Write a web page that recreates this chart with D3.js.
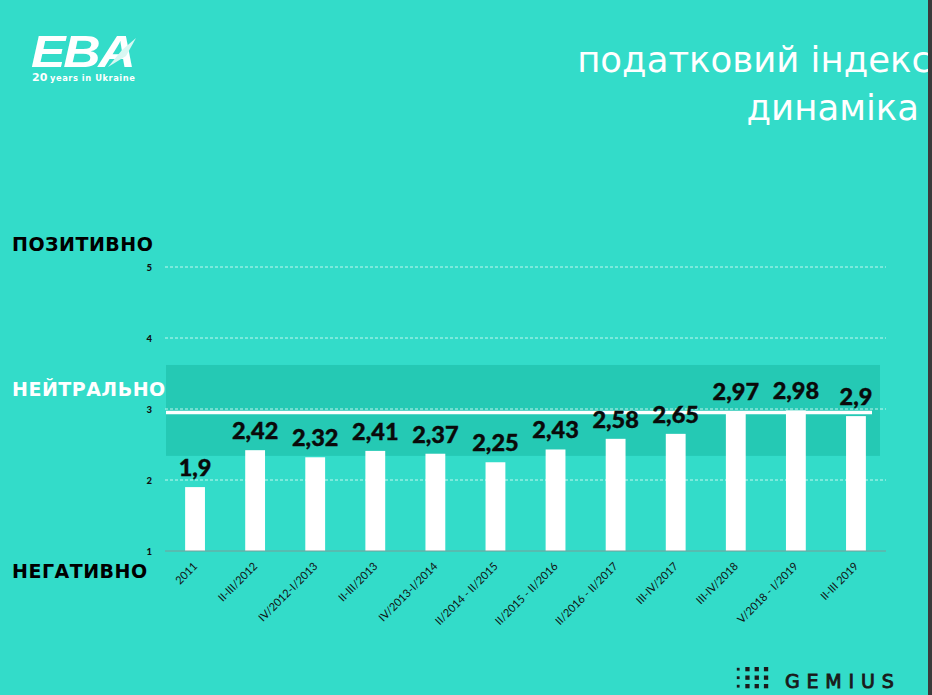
<!DOCTYPE html>
<html><head><meta charset="utf-8">
<script src="https://cdn.jsdelivr.net/npm/d3@7"></script>
<style>
html,body{margin:0;padding:0;background:#33dcc9;}
svg{display:block;}
</style></head><body>
<svg id="chart" width="932" height="695"></svg>
<script>
const categories = ["2011","II-III/2012","IV/2012-I/2013","II-III/2013","IV/2013-I/2014","II/2014 - II/2015","II/2015 - II/2016","II/2016 - II/2017","III-IV/2017","III-IV/2018","V/2018 - I/2019","II-III 2019"];
const values = [1.9,2.42,2.32,2.41,2.37,2.25,2.43,2.58,2.65,2.97,2.98,2.9];
const valueLabels = ["1,9","2,42","2,32","2,41","2,37","2,25","2,43","2,58","2,65","2,97","2,98","2,9"];
const yTicks = [1,2,3,4,5];
const neutralBand = [2.34, 3.62];
const neutralLine = 2.95;
const zoneLabels = ["ПОЗИТИВНО","НЕЙТРАЛЬНО","НЕГАТИВНО"];
const titleLines = ["податковий індекс","динаміка"];

const svg = d3.select("#chart");
const bg = "#33dcc9";
svg.append("rect").attr("width",932).attr("height",695).attr("fill",bg);

const x = d3.scaleBand().domain(categories).range([165,886]).paddingInner(0.67).paddingOuter(0.335);
const y = d3.scaleLinear().domain([1,5]).range([551,267]);

// neutral band
svg.append("rect").attr("x",166).attr("width",714)
  .attr("y",y(neutralBand[1])).attr("height",y(neutralBand[0])-y(neutralBand[1]))
  .attr("fill","#25c9b4");

// grid
svg.append("g").selectAll("line").data(yTicks.filter(d=>d>1)).join("line")
  .attr("x1",165).attr("x2",886).attr("y1",d=>y(d)).attr("y2",d=>y(d))
  .attr("stroke","#e8fffb").attr("stroke-width",0.8).attr("stroke-dasharray","3,2");

// y axis labels
const yAxis = d3.axisLeft(y).tickValues(yTicks).tickSize(0).tickPadding(13).tickFormat(d3.format("d"));
const ya = svg.append("g").attr("transform","translate(165,0)").call(yAxis);
ya.select(".domain").remove();
ya.selectAll("text").attr("font-family","Lato, sans-serif").attr("font-weight","900").attr("font-size",9.5).attr("fill","#111");

// bars
svg.append("g").selectAll("rect").data(values).join("rect")
  .attr("x",(d,i)=>x(categories[i])).attr("width",x.bandwidth())
  .attr("y",d=>y(d)).attr("height",d=>y(1)-y(d)).attr("fill","#ffffff");

// baseline
svg.append("line").attr("x1",165).attr("x2",886).attr("y1",y(1)).attr("y2",y(1))
  .attr("stroke","#7a9c98").attr("stroke-width",1);

// neutral line
svg.append("line").attr("x1",166).attr("x2",872).attr("y1",y(neutralLine)).attr("y2",y(neutralLine))
  .attr("stroke","#ffffff").attr("stroke-width",3.5);

// value labels
svg.append("g").selectAll("text").data(values).join("text")
  .attr("x",(d,i)=>x(categories[i])+x.bandwidth()/2).attr("y",d=>y(d)-11)
  .attr("text-anchor","middle").attr("font-family","Lato, sans-serif").attr("font-weight","900")
  .attr("font-size",23.5).attr("fill","#0a0a0a").attr("stroke","#0a0a0a").attr("stroke-width",0.4)
  .text((d,i)=>valueLabels[i]);

// x axis labels
const xAxis = d3.axisBottom(x).tickSize(0).tickPadding(0);
const xa = svg.append("g").attr("transform",`translate(0,${y(1)})`).call(xAxis);
xa.select(".domain").remove();
xa.selectAll("text").attr("font-family","Lato, sans-serif").attr("font-size",11).attr("fill","#111")
  .attr("text-anchor","end").attr("dy",0).attr("y",0).attr("x",0)
  .attr("transform","translate(3,16) rotate(-45)");

// zone labels
const zoneY = [251, 396, 578];
const zoneFill = ["#000","#fff","#000"];
svg.append("g").selectAll("text").data(zoneLabels).join("text")
  .attr("x",12).attr("y",(d,i)=>zoneY[i]).attr("font-family","'DejaVu Sans', sans-serif").attr("font-weight","bold")
  .attr("font-size",19).attr("letter-spacing",0.5).attr("fill",(d,i)=>zoneFill[i]).text(d=>d);

// title
svg.append("text").attr("x",931).attr("y",72).attr("text-anchor","end").attr("font-family","'DejaVu Sans', sans-serif")
  .attr("font-size",35.5).attr("fill","#fff").text(titleLines[0]);
svg.append("text").attr("x",919).attr("y",120).attr("text-anchor","end").attr("font-family","'DejaVu Sans', sans-serif")
  .attr("font-size",35.5).attr("fill","#fff").text(titleLines[1]);

// right dark edge
svg.append("rect").attr("x",928).attr("width",4).attr("height",695).attr("fill","#3a3a3a");

// EBA logo
const logo = svg.append("g");
logo.append("text").attr("x",31).attr("y",67).attr("font-family","'Liberation Sans', Arial, sans-serif").attr("font-weight","bold")
  .attr("font-style","italic").attr("font-size",45).attr("fill","#fff").attr("letter-spacing",-2)
  .attr("transform","translate(31,67) scale(1.15,1) translate(-31,-67)").text("EBA");
logo.append("path").attr("d","M108,67 L122,50 L136,38 L126,56 Z").attr("fill","#d8f7f2");
logo.append("text").attr("x",32).attr("y",81).attr("font-family","'DejaVu Sans', sans-serif").attr("font-weight","bold")
  .attr("font-size",11).attr("fill","#fff").text("20");
logo.append("text").attr("x",50).attr("y",81).attr("font-family","'DejaVu Sans', sans-serif").attr("font-weight","bold")
  .attr("font-size",8.3).attr("letter-spacing",0.55).attr("fill","#fff").text("years in Ukraine");

// GEMIUS logo
const gm = svg.append("g").attr("fill","#1a1a1a");
const dotCols = [0,1,2,3];
const dotRows = [0,1,2];
dotCols.forEach(c=>dotRows.forEach(r=>{
  const s = c===0 ? 2.8 : 4.3;
  gm.append("rect").attr("x",736+c*9.3 + (c===0?0.8:0)).attr("y",667+r*8.5 + (c===0?0.8:0)).attr("width",s).attr("height",s);
}));
gm.append("text").attr("x",785).attr("y",688).attr("font-family","'DejaVu Sans', sans-serif")
  .attr("font-size",19).attr("letter-spacing",6.8).attr("stroke","#1a1a1a").attr("stroke-width",0.9).text("GEMIUS");
</script>
</body></html>
